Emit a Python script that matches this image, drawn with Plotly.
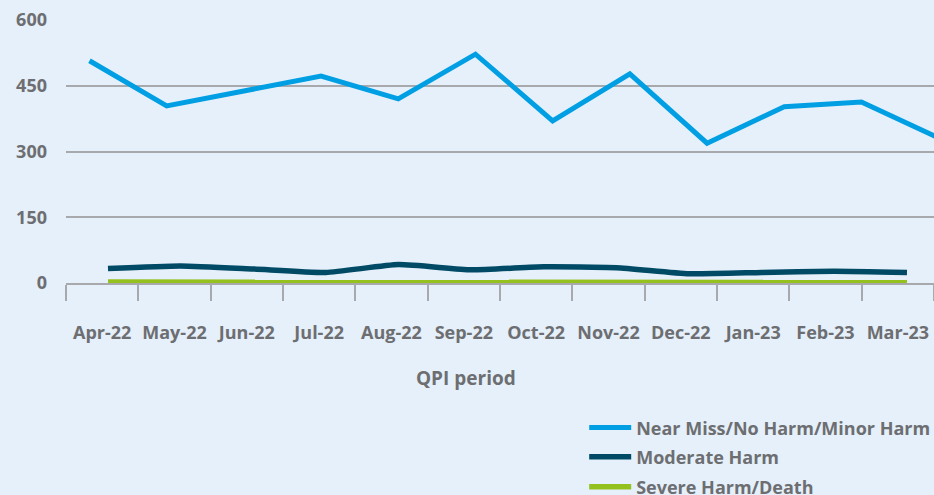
import plotly.graph_objects as go

months = ["Apr-22", "May-22", "Jun-22", "Jul-22", "Aug-22", "Sep-22",
          "Oct-22", "Nov-22", "Dec-22", "Jan-23", "Feb-23", "Mar-23"]
near_miss = [507, 404, 438, 472, 420, 522, 370, 477, 319, 402, 413, 331]
moderate = [33, 39, 32, 24, 42, 30, 37, 35, 21, 24, 27, 24]
severe = [2, 2, 2, 2, 1, 0, 0, 0, 1, 2, 1, 1]
y_ticks = [0, 150, 300, 450, 600]

TEXT = "#6d6e71"
GRID = "#a7a9ac"
BG = "#e5f0fa"
FONT = "Open Sans"

fig = go.Figure()
# anchor trace for the labelled category axis (no visible marks)
fig.add_trace(go.Scatter(x=months, y=[None] * len(months), mode="lines",
                         showlegend=False, hoverinfo="skip"))
fig.add_trace(go.Scatter(x=months, y=near_miss, xaxis="x2", mode="lines",
                         name="Near Miss/No Harm/Minor Harm",
                         line=dict(color="#009fe3", width=5), cliponaxis=False,
                         legend="legend"))
fig.add_trace(go.Scatter(x=months, y=moderate, xaxis="x3", mode="lines",
                         name="Moderate Harm",
                         line=dict(color="#004a66", width=5.5, shape="spline", smoothing=0.5),
                         cliponaxis=False, legend="legend2"))
fig.add_trace(go.Scatter(x=months, y=severe, xaxis="x3", mode="lines",
                         name="Severe Harm/Death",
                         line=dict(color="#95c11f", width=5.5), cliponaxis=False,
                         legend="legend3"))

legend_common = dict(font=dict(family=FONT, size=18, color=TEXT, weight="bold"),
                     bgcolor="rgba(0,0,0,0)", xanchor="left", yanchor="middle",
                     itemwidth=42, borderwidth=0)

fig.update_layout(
    width=934, height=495,
    paper_bgcolor=BG, plot_bgcolor=BG,
    margin=dict(l=66, r=0, t=20, b=212, autoexpand=False),
    font=dict(family=FONT, size=17, color=TEXT, weight="bold"),
    xaxis=dict(type="category", categoryorder="array", categoryarray=months,
               range=[-0.5, 11.5], tickson="boundaries", ticks="outside",
               ticklen=16, tickwidth=1.5, tickcolor=GRID, showline=True,
               linecolor=GRID, linewidth=2, showgrid=False, layer="below traces",
               ticklabelstandoff=32, tickangle=0,
               tickfont=dict(family=FONT, size=18, color=TEXT, weight="bold")),
    xaxis2=dict(type="category", categoryorder="array", categoryarray=months,
                overlaying="x", range=[-0.304, 10.94], visible=False),
    xaxis3=dict(type="category", categoryorder="array", categoryarray=months,
                overlaying="x", range=[-0.578, 11.372], visible=False),
    yaxis=dict(range=[0, 600], tickvals=y_ticks, showgrid=True, gridcolor=GRID,
               gridwidth=2, zeroline=False, showline=False, ticks="",
               ticklabelstandoff=18, layer="below traces",
               tickfont=dict(family=FONT, size=18, color=TEXT, weight="bold")),
    legend=dict(x=0.597, y=-0.551, **legend_common),
    legend2=dict(x=0.597, y=-0.662, **legend_common),
    legend3=dict(x=0.597, y=-0.776, **legend_common),
    annotations=[dict(text="QPI period", xref="paper", yref="paper",
                      x=0.461, y=-0.361, showarrow=False, xanchor="center",
                      yanchor="middle",
                      font=dict(family=FONT, size=19, color=TEXT, weight="bold"))],
)

fig.write_html("out.html", config={"displayModeBar": False},
               post_script="document.body.style.margin='0';document.body.style.overflow='hidden';")
